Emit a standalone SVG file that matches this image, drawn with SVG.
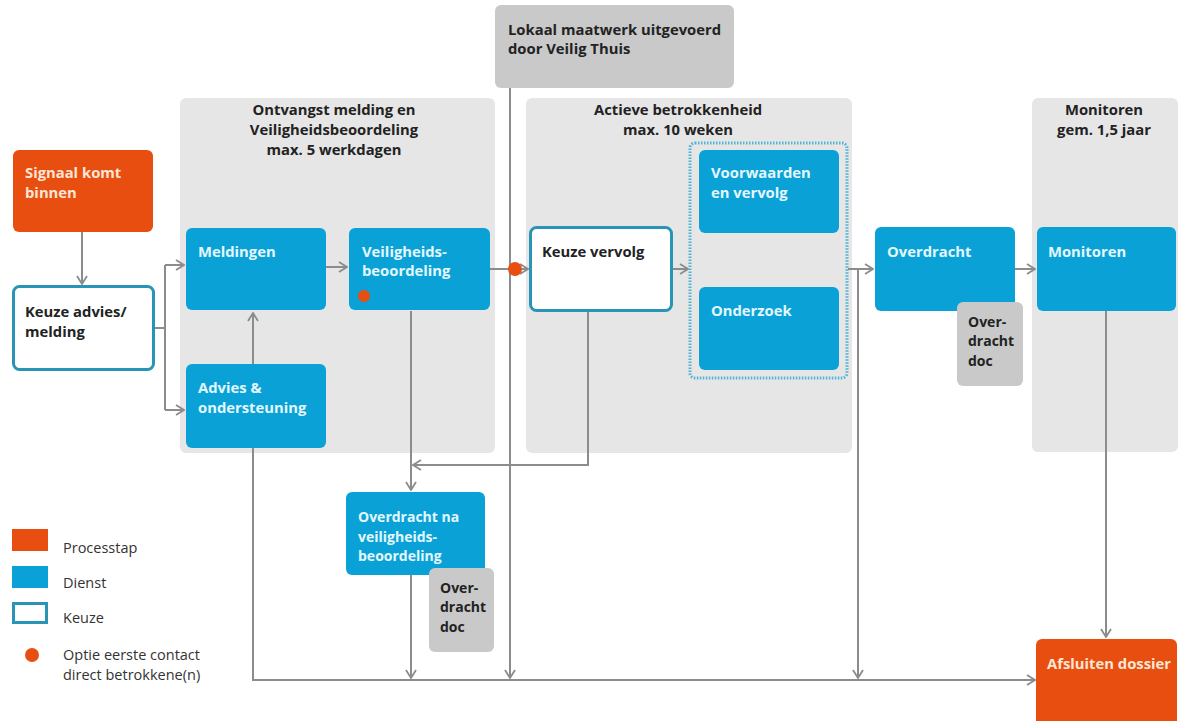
<svg xmlns="http://www.w3.org/2000/svg" width="1180" height="721" viewBox="0 0 1180 721">
<defs>
<style>
.panel{fill:#e6e6e6}
.proc{fill:#e84e0f}
.svc{fill:#0aa2d6}
.choice{fill:#fff;stroke:#2a94b6;stroke-width:3}
.doc{fill:#c9c9c9}
.t{font-family:"Open Sans","Liberation Sans",sans-serif;font-weight:bold;font-size:14.8px}
.s{font-size:14px}
.tw{fill:#e3f7ff}
.to{fill:#fde6d6}
.td{fill:#222}
.tc{text-anchor:middle}
.leg{font-family:"Open Sans","Liberation Sans",sans-serif;font-size:14.5px;fill:#333}
.ln{fill:none;stroke:#8c8c8c;stroke-width:2}
.dot{fill:#e84e0f}
</style>
<marker id="ah" markerWidth="10" markerHeight="12" refX="9" refY="6" orient="auto" markerUnits="userSpaceOnUse">
<path d="M1,1 L9,6 L1,11" fill="none" stroke="#8c8c8c" stroke-width="1.8"/>
</marker>
</defs>
<rect width="1180" height="721" fill="#fff"/>

<g id="panel-ontvangst">
<rect class="panel" x="180" y="98" width="315" height="355" rx="6"/>
<text class="t td tc" x="334" y="115">Ontvangst melding en</text>
<text class="t td tc" x="334" y="135">Veiligheidsbeoordeling</text>
<text class="t td tc" x="334" y="155">max. 5 werkdagen</text>
</g>
<g id="panel-actief">
<rect class="panel" x="526" y="98" width="326" height="355" rx="6"/>
<text class="t td tc" x="678" y="115">Actieve betrokkenheid</text>
<text class="t td tc" x="678" y="135">max. 10 weken</text>
</g>
<g id="panel-monitoren">
<rect class="panel" x="1032" y="98" width="146" height="354" rx="6"/>
<text class="t td tc" x="1104" y="115">Monitoren</text>
<text class="t td tc" x="1104" y="135">gem. 1,5 jaar</text>
</g>

<g id="connectors">
<path class="ln" d="M82,232 V284" marker-end="url(#ah)"/>
<path class="ln" d="M155,328 H165 M165,265 V410"/>
<path class="ln" d="M165,265 H184" marker-end="url(#ah)"/>
<path class="ln" d="M165,410 H184" marker-end="url(#ah)"/>
<path class="ln" d="M326,267 H347" marker-end="url(#ah)"/>
<path class="ln" d="M253,364 V313" marker-end="url(#ah)"/>
<path class="ln" d="M490,269 H528" marker-end="url(#ah)"/>
<path class="ln" d="M672,269 H688" marker-end="url(#ah)"/>
<path class="ln" d="M848,269 H873" marker-end="url(#ah)"/>
<path class="ln" d="M1015,269 H1035" marker-end="url(#ah)"/>
<path class="ln" d="M411,311 V490" marker-end="url(#ah)"/>
<path class="ln" d="M588,311 V465 H413" marker-end="url(#ah)"/>
<path class="ln" d="M411,575 V678" marker-end="url(#ah)"/>
<path class="ln" d="M510,88 V678" marker-end="url(#ah)"/>
<path class="ln" d="M858,269 V678" marker-end="url(#ah)"/>
<path class="ln" d="M253,448 V680 H1035" marker-end="url(#ah)"/>
<path class="ln" d="M1106,311 V637" marker-end="url(#ah)"/>
<circle class="dot" cx="515" cy="269" r="7"/>
</g>

<g id="lokaal">
<rect class="doc" x="495" y="5" width="239" height="83" rx="6"/>
<text class="t td" x="508" y="35">Lokaal maatwerk uitgevoerd</text>
<text class="t td" x="508" y="54">door Veilig Thuis</text>
</g>

<g id="signaal">
<rect class="proc" x="13" y="150" width="140" height="82" rx="6"/>
<text class="t to" x="25" y="178">Signaal komt</text>
<text class="t to" x="25" y="198">binnen</text>
</g>
<g id="keuze-advies">
<rect class="choice" x="13.5" y="286.5" width="140" height="83" rx="6"/>
<text class="t td" x="25" y="317">Keuze advies/</text>
<text class="t td" x="25" y="337">melding</text>
</g>
<g id="meldingen">
<rect class="svc" x="186" y="228" width="140" height="82" rx="6"/>
<text class="t tw" x="198" y="257">Meldingen</text>
</g>
<g id="veiligheidsbeoordeling">
<rect class="svc" x="349" y="228" width="141" height="82" rx="6"/>
<text class="t tw" x="362" y="257">Veiligheids-</text>
<text class="t tw" x="362" y="276">beoordeling</text>
<circle class="dot" cx="364" cy="296" r="6"/>
</g>
<g id="advies">
<rect class="svc" x="186" y="364" width="140" height="84" rx="6"/>
<text class="t tw" x="198" y="393">Advies &amp;</text>
<text class="t tw" x="198" y="413">ondersteuning</text>
</g>
<g id="keuze-vervolg">
<rect class="choice" x="530.5" y="227.5" width="141" height="83" rx="6"/>
<text class="t td" x="542" y="257">Keuze vervolg</text>
</g>
<g id="groep-voorwaarden-onderzoek">
<rect x="690" y="143" width="157" height="235" rx="5" fill="none" stroke="#4fb3d6" stroke-width="3" stroke-dasharray="1.5 1.5"/>
</g>
<g id="voorwaarden">
<rect class="svc" x="699" y="150" width="140" height="83" rx="6"/>
<text class="t tw" x="711" y="178">Voorwaarden</text>
<text class="t tw" x="711" y="198">en vervolg</text>
</g>
<g id="onderzoek">
<rect class="svc" x="699" y="287" width="140" height="83" rx="6"/>
<text class="t tw" x="711" y="316">Onderzoek</text>
</g>
<g id="overdracht">
<rect class="svc" x="875" y="227" width="140" height="84" rx="6"/>
<text class="t tw" x="887" y="257">Overdracht</text>
</g>
<g id="overdracht-doc">
<rect class="doc" x="957" y="302" width="66" height="84" rx="6"/>
<text class="t s td" x="968" y="327">Over-</text>
<text class="t s td" x="968" y="346">dracht</text>
<text class="t s td" x="968" y="366">doc</text>
</g>
<g id="monitoren">
<rect class="svc" x="1037" y="227" width="139" height="84" rx="6"/>
<text class="t tw" x="1048" y="257">Monitoren</text>
</g>
<g id="overdracht-na">
<rect class="svc" x="346" y="492" width="139" height="83" rx="6"/>
<text class="t s tw" x="358" y="522">Overdracht na</text>
<text class="t s tw" x="358" y="542">veiligheids-</text>
<text class="t s tw" x="358" y="561">beoordeling</text>
</g>
<g id="overdracht-na-doc">
<rect class="doc" x="429" y="568" width="65" height="84" rx="6"/>
<text class="t s td" x="440" y="593">Over-</text>
<text class="t s td" x="440" y="612">dracht</text>
<text class="t s td" x="440" y="632">doc</text>
</g>
<g id="afsluiten">
<rect class="proc" x="1036" y="639" width="141" height="90" rx="6"/>
<text class="t to" x="1047" y="669">Afsluiten dossier</text>
</g>

<g id="legenda">
<rect class="proc" x="12" y="529" width="36" height="22"/>
<text class="leg" x="63" y="553">Processtap</text>
<rect class="svc" x="12" y="566" width="36" height="22"/>
<text class="leg" x="63" y="588">Dienst</text>
<rect class="choice" x="13.5" y="603.5" width="33" height="19"/>
<text class="leg" x="63" y="623">Keuze</text>
<circle class="dot" cx="32" cy="655" r="7"/>
<text class="leg" x="63" y="660">Optie eerste contact</text>
<text class="leg" x="63" y="680">direct betrokkene(n)</text>
</g>
</svg>
